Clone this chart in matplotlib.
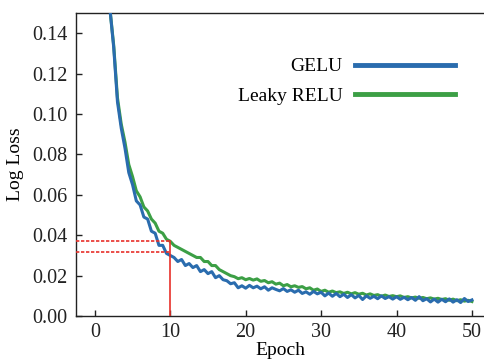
import numpy as np
import matplotlib
matplotlib.use("Agg")
import matplotlib.pyplot as plt

plt.rcParams['font.family'] = ['Liberation Serif', 'DejaVu Serif']

epochs = np.arange(2.0, 50.01, 0.5)

gelu = [0.152, 0.133, 0.106, 0.093, 0.083, 0.071, 0.065, 0.057, 0.055, 0.049,
        0.048, 0.042, 0.041, 0.035, 0.035, 0.031, 0.030, 0.029, 0.027, 0.028,
        0.025, 0.026, 0.024, 0.025, 0.022, 0.023, 0.021, 0.022, 0.019, 0.020,
        0.018, 0.0175, 0.016, 0.0165, 0.014, 0.0150, 0.0138, 0.0152, 0.0140, 0.0148,
        0.0135, 0.0145, 0.0128, 0.0140, 0.0132, 0.0125, 0.0136, 0.0122, 0.0130, 0.0118,
        0.0128, 0.0112, 0.0120, 0.0108, 0.0122, 0.0110, 0.0118, 0.0100, 0.0114, 0.0098,
        0.0112, 0.0096, 0.0108, 0.0092, 0.0106, 0.0090, 0.0102, 0.0082, 0.0100, 0.0088,
        0.0098, 0.0086, 0.0100, 0.0087, 0.0096, 0.0084, 0.0096, 0.0083, 0.0093, 0.0081,
        0.0092, 0.0078, 0.0096, 0.0076, 0.0086, 0.0070, 0.0084, 0.0069, 0.0083, 0.0071,
        0.0085, 0.0069, 0.0081, 0.0067, 0.0087, 0.0072, 0.0080]

leaky_relu = [0.152, 0.134, 0.108, 0.095, 0.086, 0.075, 0.069, 0.062, 0.059, 0.054,
              0.052, 0.048, 0.046, 0.042, 0.041, 0.038, 0.037, 0.035, 0.034, 0.033,
              0.032, 0.031, 0.030, 0.029, 0.029, 0.027, 0.027, 0.025, 0.025, 0.023,
              0.022, 0.021, 0.020, 0.0195, 0.0185, 0.0190, 0.0180, 0.0186, 0.0178, 0.0184,
              0.0172, 0.0176, 0.0165, 0.0170, 0.0158, 0.0163, 0.0150, 0.0156, 0.0145, 0.0150,
              0.0142, 0.0146, 0.0135, 0.0140, 0.0128, 0.0134, 0.0122, 0.0128, 0.0118, 0.0124,
              0.0116, 0.0120, 0.0112, 0.0118, 0.0110, 0.0116, 0.0108, 0.0113, 0.0104, 0.0110,
              0.0102, 0.0106, 0.0098, 0.0104, 0.0097, 0.0101, 0.0096, 0.0100, 0.0092, 0.0096,
              0.0090, 0.0094, 0.0088, 0.0092, 0.0086, 0.0090, 0.0084, 0.0088, 0.0082, 0.0086,
              0.0078, 0.0084, 0.0076, 0.0081, 0.0074, 0.0078, 0.0072]

marker_epoch = 10
marker_levels = [0.0373, 0.0318]

xticks = [0, 10, 20, 30, 40, 50]
yticks = [0.00, 0.02, 0.04, 0.06, 0.08, 0.10, 0.12, 0.14]

fig = plt.figure(figsize=(4.84, 3.6), dpi=100)
ax = fig.add_axes([0.157, 0.122, 0.843, 0.842])

blue = '#2a6cae'
green = '#3c9f45'

l2, = ax.plot(epochs, leaky_relu, color=green, lw=2.2, label='Leaky RELU', zorder=2)
l1, = ax.plot(epochs, gelu, color=blue, lw=2.2, label='GELU', zorder=3)

xmin = -2.5
ax.set_xlim(xmin, 51.6)
ax.set_ylim(0, 0.15)

red = '#e8302a'
ax.plot([marker_epoch, marker_epoch], [0, marker_levels[0]], color=red, lw=1.2, zorder=4)
for lv in marker_levels:
    ax.plot([xmin, marker_epoch], [lv, lv], color=red, lw=1.2, ls=(0, (2, 1)), zorder=4)

ax.set_xticks(xticks)
ax.set_xticklabels([str(t) for t in xticks])
ax.set_yticks(yticks)
ax.set_yticklabels([f'{t:.2f}' for t in yticks])
ax.tick_params(direction='in', length=4, width=1, labelsize=14.5, colors='#222222', pad=6)
ax.tick_params(axis='x', pad=5)
ax.spines['right'].set_visible(False)
for s in ['left', 'bottom', 'top']:
    ax.spines[s].set_color('#222222')
    ax.spines[s].set_linewidth(1.0)

ax.set_xlabel('Epoch', fontsize=14, labelpad=0)
ax.set_ylabel('Log Loss', fontsize=14, labelpad=6)

leg = ax.legend(handles=[l1, l2], loc='upper right', bbox_to_anchor=(0.971, 0.91),
                frameon=False, markerfirst=False, fontsize=14, handlelength=5.15,
                handletextpad=0.6, labelspacing=0.62)
for h in leg.get_lines():
    h.set_linewidth(3.5)

fig.savefig('out.png', dpi=100)
